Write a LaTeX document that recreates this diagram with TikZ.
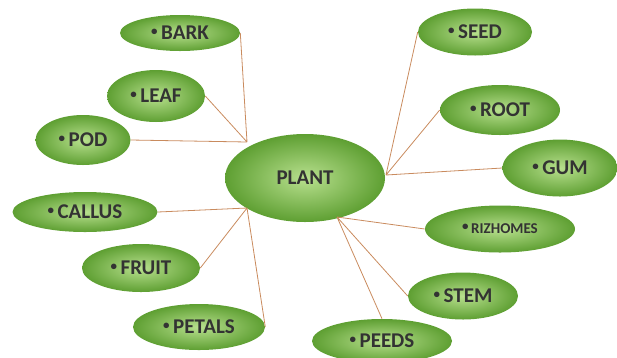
\documentclass[tikz,border=0pt]{standalone}
\usepackage{fontspec}
\setmainfont{Carlito}
\usetikzlibrary{positioning}
\usetikzlibrary{shapes.geometric}
\definecolor{leafdark}{HTML}{5E9F32}
\definecolor{leaflight}{HTML}{B8E08E}
\definecolor{twigcol}{HTML}{C98B5E}
\newcommand{\dotmark}{\raisebox{0.22em}{\fontsize{13}{13}\selectfont\textbullet}\,}
\begin{document}
\begin{tikzpicture}[x=1pt,y=-1pt,semithick]
			\tikzstyle{part}=[ellipse,inner sep=0pt,shading=radial,inner color=leaflight,
			outer color=leafdark,text=black!80,font=\bfseries\fontsize{21}{23}\selectfont]
			\tikzstyle{twig}=[draw=twigcol,line width=0.8pt]
			
			\useasboundingbox (0,0) rectangle (617,357);
			
			\node[part,minimum width=160,minimum height=88] (P) at (305,178) {PLANT};
			
			\node[part,minimum width=120,minimum height=36] (B) at (180,33)  {\dotmark BARK};
			\node[part,minimum width=98,minimum height=52]  (L) at (156,96)  {\dotmark LEAF};
			\node[part,minimum width=95,minimum height=50]  (O) at (83,140)  {\dotmark POD};
			\node[part,minimum width=145,minimum height=40] (C) at (85,212)  {\dotmark CALLUS};
			\node[part,minimum width=118,minimum height=48] (F) at (141,268) {\dotmark FRUIT};
			\node[part,minimum width=132,minimum height=46] (T) at (199,327) {\dotmark PETALS};
			\node[part,minimum width=114,minimum height=47] (S) at (475,32)  {\dotmark SEED};
			\node[part,minimum width=120,minimum height=50] (R) at (500,110) {\dotmark ROOT};
			\node[part,minimum width=115,minimum height=57] (G) at (560,168) {\dotmark GUM};
			\node[part,minimum width=150,minimum height=47,font=\bfseries\fontsize{15}{17}\selectfont] (Z) at (500,229) {\dotmark RIZHOMES};
			\node[part,minimum width=110,minimum height=47] (M) at (463,296) {\dotmark STEM};
			\node[part,minimum width=140,minimum height=44] (D) at (382,341) {\dotmark PEEDS};
			
			% meeting points on the rim of PLANT
			\coordinate (h_1) at (247,142);
			\coordinate (h_2) at (247,208);
			\coordinate (h_3) at (386,175);
			\coordinate (h_4) at (337,217);
			
			\path[twig] (B.east) -- (h_1)
			(L.east) -- (h_1)
			(O.east) -- (h_1)
			(C.east) -- (h_2)
			(F.east) -- (h_2)
			(T.east) -- (h_2)
			(S.west) -- (h_3)
			(R.west) -- (h_3)
			(G.west) -- (h_3)
			(Z.west) -- (h_4)
			(M.west) -- (h_4)
			(D.north) -- (h_4);
\end{tikzpicture}
\end{document}
